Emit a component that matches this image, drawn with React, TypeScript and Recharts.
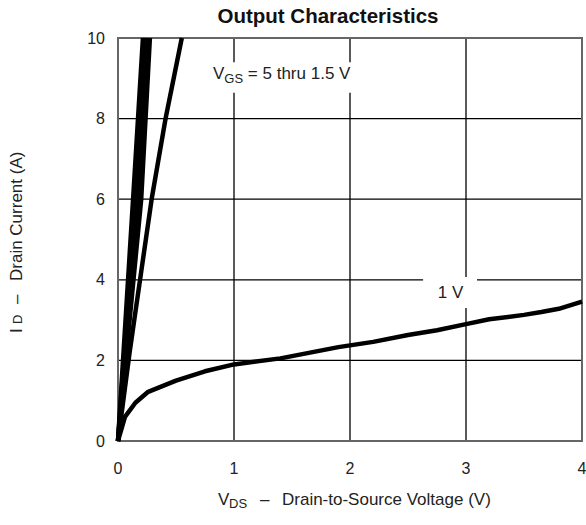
import {
  LineChart,
  Line,
  XAxis,
  YAxis,
  CartesianGrid,
  ReferenceArea,
  Customized,
} from 'recharts'

// VDS (V), ID (A) pairs read per gate voltage
const vgs5 = [[0, 0], [0.13, 6], [0.215, 10]]
const vgs4 = [[0, 0], [0.15, 6], [0.235, 10]]
const vgs3 = [[0, 0], [0.175, 6], [0.255, 10]]
const vgs2 = [[0, 0], [0.2, 6], [0.275, 10]]
const vgs15 = [[0, 0], [0.1, 2.2], [0.2, 4.2], [0.29, 6], [0.41, 8], [0.55, 10]]
const vgs1 = [
  [0, 0], [0.06, 0.6], [0.15, 0.95], [0.26, 1.22], [0.5, 1.5], [0.75, 1.73],
  [1, 1.9], [1.4, 2.05], [1.9, 2.33], [2.2, 2.46], [2.5, 2.63], [2.75, 2.75],
  [3, 2.9], [3.2, 3.02], [3.5, 3.13], [3.65, 3.2], [3.8, 3.28], [4, 3.46],
]

const xTicks = [0, 1, 2, 3, 4]
const yTicks = [0, 2, 4, 6, 8, 10]

const FONT = '"Liberation Sans", Arial, sans-serif'

const toPoints = (pts: number[][]) => pts.map(([v, i]) => ({ v, i }))

const curves = [vgs5, vgs4, vgs3, vgs2, vgs15, vgs1]

const VgsLabel = ({ viewBox }: any) => {
  const { x, y } = viewBox
  return (
    <text x={x + 8} y={y + 17} fontFamily={FONT} fontSize={17} fill='#222'>
      V
      <tspan fontSize={13} dy={4}>GS</tspan>
      <tspan dy={-4}> = 5 thru 1.5 V</tspan>
    </text>
  )
}

const OneVLabel = ({ viewBox }: any) => {
  const { x, y, width } = viewBox
  return (
    <text x={x + width / 2 + 0.5} y={y + 21} textAnchor='middle' fontFamily={FONT} fontSize={17} fill='#222'>
      1 V
    </text>
  )
}

// rotated axis title, laid out along its own baseline
const YLabel = () => {
  const bx = 22
  const by = 333
  return (
    <text x={bx} y={by} transform={`rotate(-90 ${bx} ${by})`} fontFamily={FONT} fontSize={17} fill='#222'>
      <tspan x={bx}>I</tspan>
      <tspan x={bx + 9} fontSize={13}>D</tspan>
      <tspan x={bx + 29}>–</tspan>
      <tspan x={bx + 52}>Drain Current (A)</tspan>
    </text>
  )
}

const XLabel = () => {
  const bx = 218
  return (
    <text x={bx} y={505} fontFamily={FONT} fontSize={17} fill='#222'>
      <tspan x={bx}>V</tspan>
      <tspan x={bx + 11} fontSize={13} dy={3}>DS</tspan>
      <tspan x={bx + 42} dy={-3}>–</tspan>
      <tspan x={bx + 64}>Drain-to-Source Voltage (V)</tspan>
    </text>
  )
}

const Title = () => (
  <text x={328} y={23} textAnchor='middle' fontFamily={FONT} fontSize={20.5} fontWeight='bold' fill='#111'>
    Output Characteristics
  </text>
)

export default function App() {
  return (
    <div style={{ position: 'absolute', left: 0, top: 0, background: '#fff' }}>
      <LineChart width={586} height={525} margin={{ top: 38, right: 4, bottom: 0, left: 0 }}>
        <CartesianGrid stroke='#000' strokeWidth={1.3} />
        <XAxis
          type='number'
          dataKey='v'
          domain={[0, 4]}
          ticks={xTicks}
          height={84}
          tickSize={0}
          tickMargin={22}
          tickLine={false}
          axisLine={false}
          tick={{ fontFamily: FONT, fontSize: 16, fill: '#222' }}
        />
        <YAxis
          type='number'
          domain={[0, 10]}
          ticks={yTicks}
          width={118}
          tickSize={0}
          tickMargin={13}
          tickLine={false}
          axisLine={false}
          tick={{ fontFamily: FONT, fontSize: 16, fill: '#222' }}
        />
        <ReferenceArea x1={0} x2={4} y1={0} y2={10} fill='none' stroke='#666' strokeWidth={2} />
        <ReferenceArea x1={0.75} x2={2.17} y1={8.64} y2={9.4} fill='#fff' fillOpacity={1} stroke='none' label={<VgsLabel />} />
        <ReferenceArea x1={2.63} x2={3.095} y1={3.3} y2={4.07} fill='#fff' fillOpacity={1} stroke='none' label={<OneVLabel />} />
        {curves.map((c, idx) => (
          <Line
            key={idx}
            data={toPoints(c)}
            dataKey='i'
            type='linear'
            stroke='#000'
            strokeWidth={4.5}
            strokeLinejoin='round'
            dot={false}
            activeDot={false}
            isAnimationActive={false}
          />
        ))}
        <Customized component={<Title />} />
        <Customized component={<YLabel />} />
        <Customized component={<XLabel />} />
      </LineChart>
    </div>
  )
}
